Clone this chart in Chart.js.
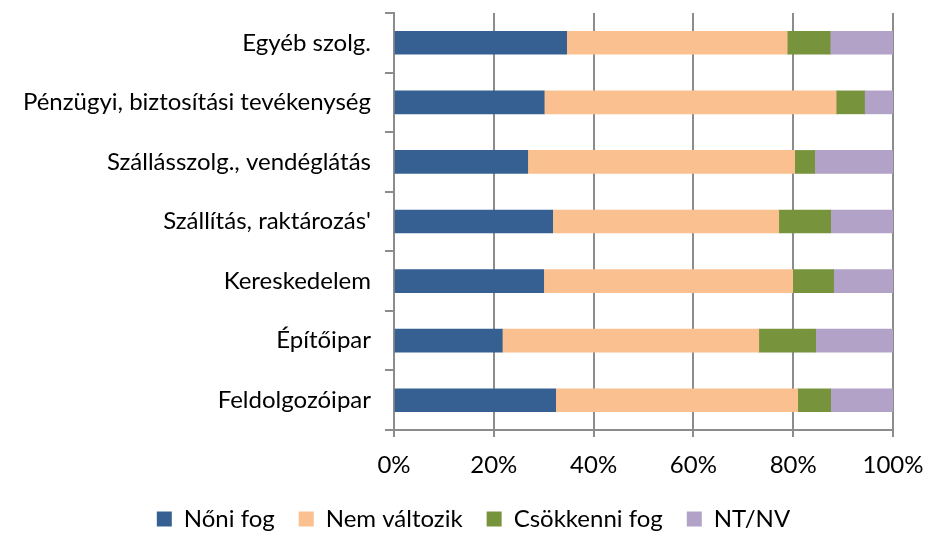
<!DOCTYPE html>
<html>
<head>
<meta charset="utf-8">
<script src="https://cdn.jsdelivr.net/npm/chart.js@4/dist/chart.umd.min.js"></script>
<style>
html,body{margin:0;padding:0;background:#fff;}
#wrap{width:927px;height:533px;position:relative;}
</style>
</head>
<body>
<div id="wrap"><canvas id="c" width="927" height="533"></canvas></div>
<script>
const categories = ["Egyéb szolg.", "Pénzügyi, biztosítási tevékenység", "Szállásszolg., vendéglátás", "Szállítás, raktározás'", "Kereskedelem", "Építőipar", "Feldolgozóipar"];
const noniFog = [34.6, 30.1, 26.8, 31.8, 30.0, 21.7, 32.4];
const nemValtozik = [44.2, 58.5, 53.5, 45.3, 49.9, 51.4, 48.5];
const csokkenniFog = [8.6, 5.7, 4.0, 10.4, 8.2, 11.4, 6.6];
const ntNv = [12.6, 5.7, 15.7, 12.5, 11.9, 15.5, 12.5];
const seriesNames = ["Nőni fog", "Nem változik", "Csökkenni fog", "NT/NV"];
const xTicks = [0, 20, 40, 60, 80, 100];

const colors = ["#376092", "#FAC090", "#77933C", "#B3A2C7"];
const FONT = "Lato, 'Open Sans', sans-serif";
const gridColor = "#8c8c8c";

const ds = [noniFog, nemValtozik, csokkenniFog, ntNv].map((d, i) => ({
  label: seriesNames[i],
  data: d,
  backgroundColor: colors[i],
  borderWidth: 0,
  barThickness: 23
}));

new Chart(document.getElementById('c'), {
  type: 'bar',
  data: { labels: categories, datasets: ds },
  options: {
    responsive: false,
    animation: false,
    indexAxis: 'y',
    layout: { padding: { top: 13, left: 20, right: 0, bottom: -8 } },
    plugins: {
      tooltip: { enabled: false },
      legend: {
        position: 'bottom',
        labels: {
          font: { family: FONT, size: 24 },
          color: '#000',
          boxWidth: 15,
          boxHeight: 15,
          padding: 24
        }
      }
    },
    scales: {
      x: {
        stacked: true,
        min: 0,
        max: 100,
        afterBuildTicks: (axis) => { axis.ticks = xTicks.map(v => ({ value: v })); },
        afterFit: (s) => { s.paddingLeft = 0; s.paddingRight = 34; s.height = 53; },
        ticks: {
          callback: (v) => v + '%',
          font: { family: FONT, size: 24 },
          color: '#000',
          padding: 14
        },
        grid: { color: gridColor, lineWidth: 2, tickLength: 7, drawTicks: true },
        border: { color: gridColor, width: 2 }
      },
      y: {
        stacked: true,
        afterFit: (s) => { s.width = 374; s.paddingTop = 0; s.paddingBottom = 0; },
        ticks: {
          font: { family: FONT, size: 24 },
          color: '#000',
          padding: 14
        },
        grid: { drawOnChartArea: false, color: gridColor, lineWidth: 2, tickLength: 9, offset: true },
        border: { color: gridColor, width: 2 }
      }
    }
  }
});
</script>
</body>
</html>
